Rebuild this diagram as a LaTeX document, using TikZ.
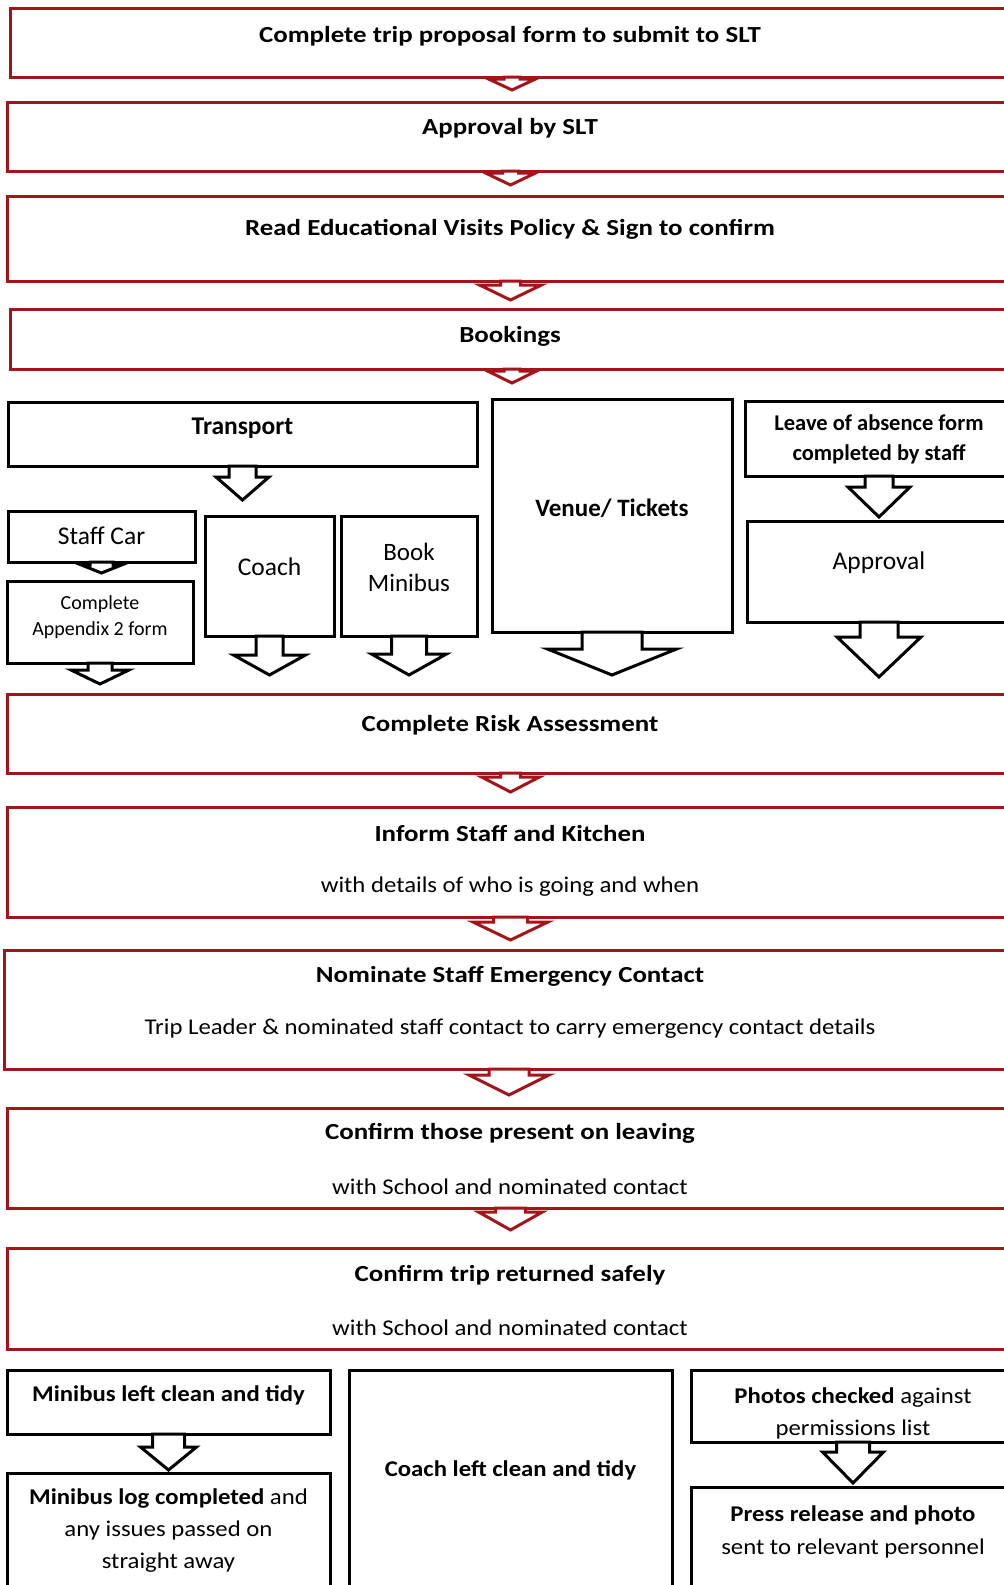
\documentclass[tikz,border=0pt]{standalone}
\usepackage{fontspec}
\setmainfont{Carlito}
\newfontfamily\headfont{Carlito}[FakeStretch=1.17]
\newfontfamily\bodyfont{Carlito}[FakeStretch=1.10]
\definecolor{flowred}{HTML}{A3151B}
\usetikzlibrary{calc}

% block arrow hanging below a box: [colour]{node}{shaft half}{head half}{shaft len}{head len}
\newcommand{\blockdown}[6][black]{%
  \draw[blockarr=#1] (#2.south) ++(-#3,0) -- ++(0,#5) -- ++(#3-#4,0)
    -- ++(#4,#6) -- ++(#4,-#6) -- ++(#3-#4,0) -- ++(0,-#5) -- cycle;}

\begin{document}
\begin{tikzpicture}[
  x=1pt, y=-1pt,
  stage/.style={draw=#1, fill=white, line width=3pt, inner sep=0pt, outer sep=0pt},
  blockarr/.style={draw=#1, fill=white, line width=3pt, line join=miter},
  hd/.style={font=\headfont\fontsize{23}{30}\selectfont\bfseries, align=center},
  txt/.style={font=\bodyfont\fontsize{22.5}{32}\selectfont, align=center},
  big/.style={font=\fontsize{25.5}{31}\selectfont, align=center}
]
  \useasboundingbox (0,0) rectangle (1004,1585);
  \clip (0,0) rectangle (1004,1585);

  % Main red stages
  \node[stage=flowred, minimum width=1004pt, minimum height=69pt] (proposal) at (512,42.5) {};
  \node[stage=flowred, minimum width=1007pt, minimum height=69pt] (slt) at (510.5,136.5) {};
  \node[stage=flowred, minimum width=1007pt, minimum height=85pt] (policy) at (510.5,238.5) {};
  \node[stage=flowred, minimum width=1004pt, minimum height=60pt] (bookings) at (512,339) {};
  \node[stage=flowred, minimum width=1007pt, minimum height=79pt] (risk) at (510.5,733.5) {};
  \node[stage=flowred, minimum width=1007pt, minimum height=110pt] (inform) at (510.5,862) {};
  \node[stage=flowred, minimum width=1010pt, minimum height=119pt] (nominate) at (509,1009.5) {};
  \node[stage=flowred, minimum width=1007pt, minimum height=100pt] (present) at (510.5,1158) {};
  \node[stage=flowred, minimum width=1007pt, minimum height=101pt] (returned) at (510.5,1298.5) {};

  \node[hd] (proposal-t) at (510,36) {Complete trip proposal form to submit to SLT};
  \node[hd] (slt-t) at (510,128) {Approval by SLT};
  \node[hd] (policy-t) at (510,229) {Read Educational Visits Policy \& Sign to confirm};
  \node[hd] (bookings-t) at (510,336) {Bookings};
  \node[hd] (risk-t) at (510,725) {Complete Risk Assessment};
  \node[hd] (inform-t) at (510,833) {Inform Staff and Kitchen};
  \node[txt] (inform-s) at (510,887) {with details of who is going and when};
  \node[hd] (nominate-t) at (510,976) {Nominate Staff Emergency Contact};
  \node[txt] (nominate-s) at (510,1029) {Trip Leader \& nominated staff contact to carry emergency contact details};
  \node[hd] (present-t) at (510,1133) {Confirm those present on leaving};
  \node[txt] (present-s) at (510,1187) {with School and nominated contact};
  \node[hd] (returned-t) at (510,1275) {Confirm trip returned safely};
  \node[txt] (returned-s) at (510,1328) {with School and nominated contact};

  % Booking branches
  \node[stage=black, minimum width=469pt, minimum height=64pt] (transport) at (242.5,434) {};
  \node[stage=black, minimum width=240pt, minimum height=233pt] (venue) at (612,515.5) {};
  \node[stage=black, minimum width=268pt, minimum height=75pt] (leave) at (879,438.5) {};
  \node[stage=black, minimum width=264pt, minimum height=101pt] (absence) at (879,571.5) {};
  \node[stage=black, minimum width=187pt, minimum height=51pt] (staffcar) at (101.5,536.5) {};
  \node[stage=black, minimum width=186pt, minimum height=82pt] (appendix) at (100,622) {};
  \node[stage=black, minimum width=129pt, minimum height=120pt] (coach) at (269.5,576) {};
  \node[stage=black, minimum width=136pt, minimum height=120pt] (minibus) at (409,576) {};

  \node[font=\fontsize{25.5}{30}\selectfont\bfseries] (transport-t) at (242.5,428) {Transport};
  \node[font=\fontsize{25}{30}\selectfont\bfseries] (venue-t) at (612,508) {Venue/ Tickets};
  \node[font=\fontsize{22.5}{30}\selectfont\bfseries, align=center] (leave-t) at (879,439) {Leave of absence form\\completed by staff};
  \node[big] (absence-t) at (879,563) {Approval};
  \node[big] (staffcar-t) at (101.5,536) {Staff Car};
  \node[font=\fontsize{20}{26}\selectfont, align=center] (appendix-t) at (100,617) {Complete\\Appendix 2 form};
  \node[big] (coach-t) at (269.5,567) {Coach};
  \node[big, font=\fontsize{25}{31}\selectfont] (minibus-t) at (409,567) {Book\\Minibus};

  % After the trip
  \node[stage=black, minimum width=323pt, minimum height=64pt] (mbclean) at (168.5,1402) {};
  \node[stage=black, minimum width=323pt, minimum height=137pt] (mblog) at (168.5,1541.5) {};
  \node[stage=black, minimum width=323pt, minimum height=240pt] (coachclean) at (510.5,1490) {};
  \node[stage=black, minimum width=324pt, minimum height=72pt] (photos) at (853,1406) {};
  \node[stage=black, minimum width=324pt, minimum height=123pt] (press) at (853,1548.5) {};

  \node[txt, font=\bodyfont\fontsize{22.5}{32}\selectfont\bfseries] (mbclean-t) at (168.5,1395) {Minibus left clean and tidy};
  \node[txt] (mblog-t) at (168.5,1531) {\textbf{Minibus log completed} and\\any issues passed on\\straight away};
  \node[txt, font=\bodyfont\fontsize{22.5}{32}\selectfont\bfseries] (coachclean-t) at (510.5,1470) {Coach left clean and tidy};
  \node[txt] (photos-t) at (853,1413) {\textbf{Photos checked} against\\permissions list};
  \node[txt, font=\bodyfont\fontsize{22.5}{33}\selectfont] (press-t) at (853,1532) {\textbf{Press release and photo}\\sent to relevant personnel};

  % Red block arrows
  \blockdown[flowred]{proposal}{8}{23.5}{2}{11}
  \blockdown[flowred]{slt}{8}{25}{2}{12}
  \blockdown[flowred]{policy}{10}{31}{4}{15}
  \blockdown[flowred]{bookings}{8}{24.5}{2}{12}
  \blockdown[flowred]{risk}{10}{29}{4}{15}
  \blockdown[flowred]{inform}{17}{37.5}{5}{18}
  \blockdown[flowred]{nominate}{20}{40}{6}{20}
  \blockdown[flowred]{present}{15}{32}{4}{18}

  % Black block arrows
  \blockdown{transport}{13.5}{26.5}{11}{23}
  \blockdown{staffcar}{11.5}{20}{3}{8}
  \blockdown{appendix}{12}{29}{7}{14}
  \blockdown{coach}{13.5}{36}{19}{20}
  \blockdown{minibus}{17.5}{37.5}{18}{21}
  \blockdown{venue}{30}{64.5}{17}{26}
  \blockdown{leave}{14}{31}{11}{30}
  \blockdown{absence}{19}{42}{15}{40}
  \blockdown{mbclean}{16}{28}{13}{23}
  \blockdown{photos}{16.5}{30.5}{10}{31}
\end{tikzpicture}
\end{document}
